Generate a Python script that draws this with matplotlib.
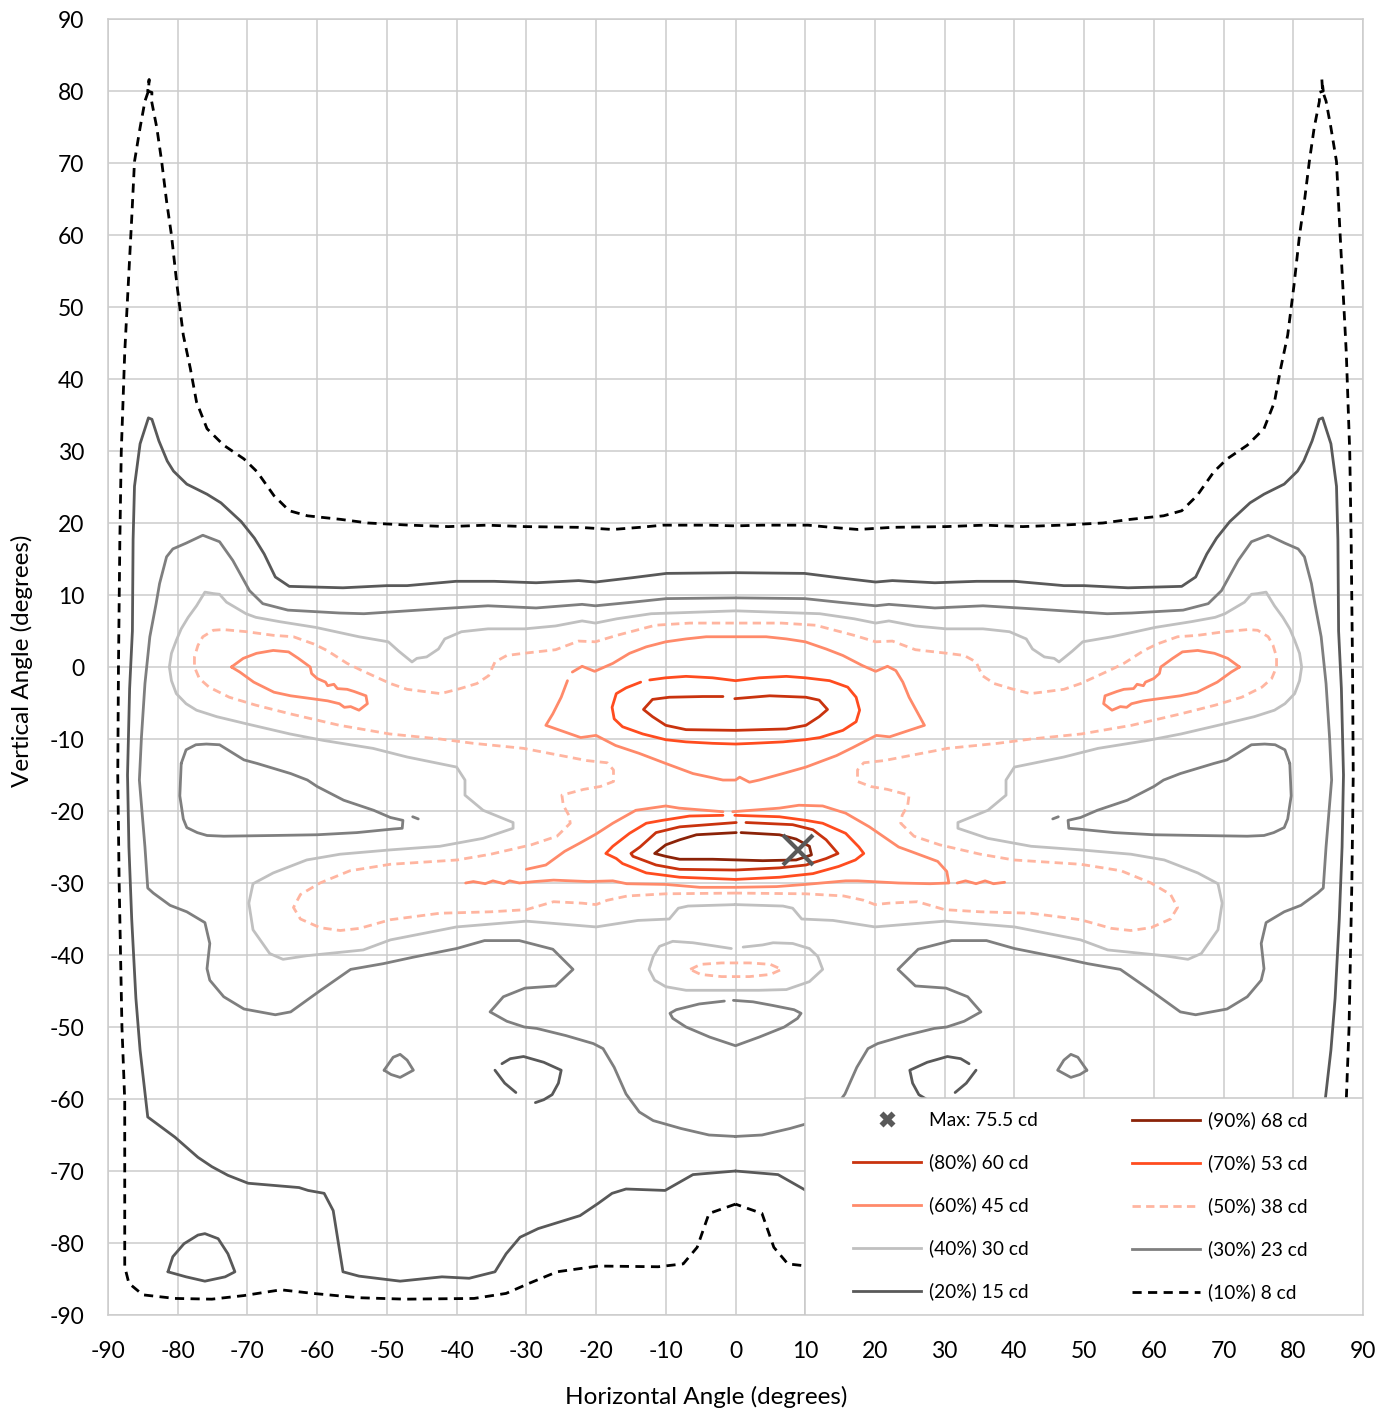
import matplotlib
matplotlib.use('Agg')
import matplotlib.pyplot as plt
from matplotlib.lines import Line2D
from matplotlib.patches import Rectangle

plt.rcParams['font.family'] = ['Lato', 'DejaVu Sans']

# ---------------- data (angles in degrees) ----------------
ticks = list(range(-90, 91, 10))

# 10% (8 cd): half outlines (bottom centre -> top centre)
c10_y = [-74.6, -75.9, -80.6, -82.9, -83.3, -83.2, -84.0, -85.6, -87.0, -87.7,
         -87.8, -87.6, -87.0, -86.5, -87.3, -87.8, -87.7, -87.2, -85.6, -83.3,
         -60.2, -50.0, -30.0, -15.0, 0.0, 17.7, 29.8, 43.7, 53.0, 62.3,
         70.2, 74.9, 78.6, 80.0, 81.6, 80.0, 79.8, 78.6, 74.9, 70.2,
         64.7, 60.0, 53.0, 46.1, 41.5, 36.8, 33.1, 30.8, 28.9, 27.1,
         23.8, 21.7, 21.0, 20.5, 20.0, 19.7, 19.5, 19.7, 19.5, 19.4,
         19.1, 19.4, 19.7, 19.7, 19.6]
c10_xl = [0, -3.8, -5.5, -7.5, -11.1, -19.7, -25.6, -29.6, -32.9, -37.5,
          -47.4, -54.0, -60.6, -65.2, -70.5, -75.1, -80.4, -85.0, -87.0, -87.6,
          -87.6, -88.0, -88.4, -88.6, -88.5, -88.3, -88.1, -87.6, -87.1, -86.6,
          -86.2, -85.4, -84.7, -84.2, -84.1, -84.3, -83.7, -83.75, -83.0, -82.3,
          -81.6, -80.9, -80.1, -79.2, -78.2, -77.3, -75.8, -73.4, -70.5, -68.6,
          -66.2, -64.0, -61.4, -56.6, -52.7, -46.7, -41.2, -35.7, -30.2, -22.5,
          -17.6, -13.7, -10.4, -3.8, 0]
c10_xr = [0, 3.8, 5.5, 7.5, 11.1, 19.7, 25.6, 29.6, 32.9, 37.5,
          47.4, 54.0, 60.6, 65.2, 70.5, 75.1, 80.4, 85.0, 87.0, 87.6,
          87.6, 88.0, 88.4, 88.6, 88.5, 88.3, 88.1, 87.6, 87.1, 86.6,
          86.2, 85.4, 84.7, 84.2, 84.1, 84.3, 83.7, 83.75, 83.0, 82.3,
          81.6, 80.9, 80.1, 79.2, 78.2, 77.3, 75.8, 73.4, 70.5, 68.6,
          66.2, 64.0, 61.4, 56.6, 52.7, 46.7, 41.2, 35.7, 30.2, 22.5,
          17.6, 13.7, 10.4, 3.8, 0]

# 20% (15 cd)
c20_y = [-70.0, -70.5, -72.7, -72.5, -73.1, -74.5, -76.2, -78.0, -79.2, -81.5,
         -84.0, -84.9, -84.7, -85.3, -84.6, -84.0, -75.5, -73.1, -72.7, -72.3,
         -71.7, -70.6, -69.4, -68.1, -65.3, -62.5, -53.2, -46.0, -35.0, -25.0,
         -15.0, -3.0, 5.0, 17.7, 25.1, 31.0, 34.6, 34.4, 31.4, 28.6,
         27.2, 25.4, 24.0, 22.8, 20.2, 17.9, 15.7, 12.5, 11.2, 11.0,
         11.3, 11.3, 11.9, 11.9, 11.7, 12.0, 11.8, 12.4, 13.0, 13.1]
c20_xl = [0, -6.1, -10.1, -15.7, -17.7, -19.7, -22.3, -28.3, -30.9, -32.9,
          -34.5, -38.2, -42.1, -48.1, -54.0, -56.3, -57.7, -59.0, -61.3, -62.6,
          -69.9, -72.8, -75.1, -77.1, -80.4, -84.3, -85.4, -86.0, -86.6, -87.0,
          -87.2, -86.9, -86.5, -86.4, -86.2, -85.4, -84.2, -83.7, -82.7, -81.5,
          -80.6, -78.7, -75.8, -73.8, -70.9, -69.0, -67.6, -66.0, -64.0, -56.3,
          -50.0, -47.1, -40.1, -34.6, -28.6, -22.5, -20.1, -14.8, -9.9, 0]
c20_xr = [0, 6.1, 10.1, 15.7, 17.7, 19.7, 22.3, 28.3, 30.9, 32.9,
          34.5, 38.2, 42.1, 48.1, 54.0, 56.3, 57.7, 59.0, 61.3, 62.6,
          69.9, 72.8, 75.1, 77.1, 80.4, 84.3, 85.4, 86.0, 86.6, 87.0,
          87.2, 86.9, 86.5, 86.4, 86.2, 85.4, 84.2, 83.7, 82.7, 81.5,
          80.6, 78.7, 75.8, 73.8, 70.9, 69.0, 67.6, 66.0, 64.0, 56.3,
          50.0, 47.1, 40.1, 34.6, 28.6, 22.5, 20.1, 14.8, 9.9, 0]
c20_loop_y = [-84.0, -81.9, -80.1, -78.9, -78.7, -79.4, -81.5, -84.0, -84.7, -85.3, -84.7, -84.0]
c20_loop_xl = [-81.4, -80.7, -79.1, -77.1, -76.1, -74.2, -72.8, -71.8, -73.2, -76.1, -78.8, -81.4]
c20_loop_xr = [81.4, 80.7, 79.1, 77.1, 76.1, 74.2, 72.8, 71.8, 73.2, 76.1, 78.8, 81.4]
c20_arc1_y = [-55.1, -54.4, -54.1, -54.9, -56.0, -57.8, -59.4, -60.1, -60.5]
c20_arc1_xl = [-33.5, -32.3, -30.4, -27.5, -25.0, -25.4, -26.3, -27.5, -28.7]
c20_arc1_xr = [33.5, 32.3, 30.4, 27.5, 25.0, 25.4, 26.3, 27.5, 28.7]
c20_arc2_y = [-56.0, -57.8, -59.1]
c20_arc2_xl = [-34.5, -33.1, -31.5]
c20_arc2_xr = [34.5, 33.1, 31.5]

# 30% (23 cd)
c30_y = [-65.2, -65.0, -64.1, -63.0, -61.8, -59.3, -55.6, -53.0, -52.3, -51.2,
         -50.2, -50.0, -49.2, -47.9, -45.8, -44.6, -44.3, -42.0, -39.2, -38.0,
         -38.0, -39.1, -40.3, -41.2, -42.0, -44.9, -47.9, -48.3, -47.5, -45.8,
         -43.5, -41.9, -38.4, -35.5, -34.0, -33.1, -31.4, -30.7, -25.0, -20.3,
         -15.7, -9.7, -2.3, 4.2, 8.8, 11.6, 15.3, 16.4, 17.2, 18.3,
         17.4, 14.8, 10.6, 8.8, 7.9, 7.5, 7.4, 7.8, 8.1, 8.5,
         8.2, 8.7, 8.5, 9.0, 9.5, 9.6]
c30_xl = [0, -3.8, -7.8, -11.8, -13.8, -15.7, -17.4, -19.0, -20.4, -24.3,
          -28.5, -30.3, -32.8, -35.2, -33.3, -30.2, -25.8, -23.3, -26.2, -31.0,
          -36.0, -40.0, -46.2, -50.5, -55.2, -59.5, -63.8, -66.0, -70.5, -73.4,
          -75.4, -75.8, -75.4, -76.1, -78.7, -81.1, -83.5, -84.3, -84.7, -85.1,
          -85.5, -85.2, -84.7, -84.0, -83.1, -82.6, -81.6, -80.7, -78.8, -76.4,
          -74.0, -72.1, -69.7, -67.8, -64.2, -56.8, -53.3, -47.1, -42.3, -35.5,
          -28.6, -22.0, -20.1, -14.8, -9.9, 0]
c30_xr = [0, 3.8, 7.8, 11.8, 13.8, 15.7, 17.4, 19.0, 20.4, 24.3,
          28.5, 30.3, 32.8, 35.2, 33.3, 30.2, 25.8, 23.3, 26.2, 31.0,
          36.0, 40.0, 46.2, 50.5, 55.2, 59.5, 63.8, 66.0, 70.5, 73.4,
          75.4, 75.8, 75.4, 76.1, 78.7, 81.1, 83.5, 84.3, 84.7, 85.1,
          85.5, 85.2, 84.7, 84.0, 83.1, 82.6, 81.6, 80.7, 78.8, 76.4,
          74.0, 72.1, 69.7, 67.8, 64.2, 56.8, 53.3, 47.1, 42.3, 35.5,
          28.6, 22.0, 20.1, 14.8, 9.9, 0]
c30_tri_y = [-13.4, -11.5, -10.8, -10.7, -10.8, -12.9, -13.4, -14.8, -15.7, -16.6,
             -18.5, -19.9, -20.9, -21.3, -22.4, -22.5, -23.0, -23.3, -23.4, -23.5,
             -23.4, -23.0, -22.3, -21.1, -17.9, -13.4]
c30_tri_xl = [-79.5, -78.8, -77.4, -75.9, -74.0, -70.5, -68.6, -63.8, -61.4, -60.0,
              -56.2, -51.9, -49.5, -47.7, -47.8, -49.1, -54.3, -60.0, -66.2, -73.4,
              -75.8, -77.2, -78.7, -79.2, -79.7, -79.5]
c30_tri_xr = [79.5, 78.8, 77.4, 75.9, 74.0, 70.5, 68.6, 63.8, 61.4, 60.0,
              56.2, 51.9, 49.5, 47.7, 47.8, 49.1, 54.3, 60.0, 66.2, 73.4,
              75.8, 77.2, 78.7, 79.2, 79.7, 79.5]
c30_tick_y = [-20.8, -21.1]
c30_tick_xl = [-46.3, -45.5]
c30_tick_xr = [46.3, 45.5]
c30_dia_y = [-56.0, -54.2, -53.8, -54.6, -56.0, -57.0, -56.6, -56.0]
c30_dia_xl = [-50.4, -49.1, -48.1, -47.1, -46.2, -48.1, -49.4, -50.4]
c30_dia_xr = [50.4, 49.1, 48.1, 47.1, 46.2, 48.1, 49.4, 50.4]
c30_lips_x = [-1.6, -5.2, -8.5, -9.4, -9.0, -7.1, -3.7, 0, 3.4, 7.0, 8.9, 9.4, 8.4, 5.3, 2.5, -0.3]
c30_lips_y = [-46.4, -46.8, -47.6, -48.1, -48.8, -50.0, -51.4, -52.6, -51.4, -50.0,
              -48.8, -48.1, -47.6, -47.0, -46.5, -46.3]

# 40% (30 cd)
c40_y = [-33.0, -33.2, -33.5, -35.0, -35.2, -36.1, -35.3, -36.1, -37.9, -39.3,
         -40.1, -40.6, -39.8, -36.5, -32.8, -30.1, -28.6, -26.8, -26.0, -25.4,
         -24.9, -23.8, -22.4, -21.6, -19.9, -17.8, -15.7, -13.9, -12.5, -11.3,
         -10.2, -9.3, -7.9, -6.9, -6.0, -5.1, -3.7, -1.9, 0.0, 1.9,
         3.7, 5.3, 6.9, 8.5, 10.4, 10.2, 10.1, 9.0, 7.4, 6.9,
         6.3, 5.5, 4.8, 4.2, 3.5, 2.2, 0.7, 1.2, 1.4, 2.5,
         3.9, 4.9, 5.3, 5.3, 5.7, 6.4, 6.1, 6.7, 7.4, 7.8]
c40_xl = [0, -6.8, -8.2, -9.5, -14.0, -20.0, -30.0, -40.0, -49.5, -53.4,
          -61.5, -64.9, -66.8, -69.2, -69.8, -69.2, -66.3, -61.5, -56.7, -49.5,
          -42.4, -36.2, -31.9, -31.9, -36.2, -38.8, -38.8, -40.0, -47.1, -52.0,
          -59.1, -63.9, -70.1, -74.4, -77.3, -78.8, -80.2, -80.9, -81.2, -80.9,
          -80.2, -79.5, -78.5, -77.3, -76.1, -74.9, -74.0, -73.0, -70.2, -68.8,
          -65.4, -60.2, -56.9, -54.0, -49.8, -48.3, -46.4, -45.7, -44.3, -42.6,
          -41.7, -39.3, -35.5, -30.2, -25.8, -22.0, -20.1, -17.0, -12.1, 0]
c40_xr = [0, 6.8, 8.2, 9.5, 14.0, 20.0, 30.0, 40.0, 49.5, 53.4,
          61.5, 64.9, 66.8, 69.2, 69.8, 69.2, 66.3, 61.5, 56.7, 49.5,
          42.4, 36.2, 31.9, 31.9, 36.2, 38.8, 38.8, 40.0, 47.1, 52.0,
          59.1, 63.9, 70.1, 74.4, 77.3, 78.8, 80.2, 80.9, 81.2, 80.9,
          80.2, 79.5, 78.5, 77.3, 76.1, 74.9, 74.0, 73.0, 70.2, 68.8,
          65.4, 60.2, 56.9, 54.0, 49.8, 48.3, 46.4, 45.7, 44.3, 42.6,
          41.7, 39.3, 35.5, 30.2, 25.8, 22.0, 20.1, 17.0, 12.1, 0]
c40_ctr_x = [-0.6, -3.3, -6.1, -9.0, -10.9, -11.8, -12.4, -11.6, -10.0, -7.1, -3.3,
             0, 3.4, 7.3, 10.6, 12.5, 11.8, 10.6, 8.2, 5.4, 3.9, 1.1]
c40_ctr_y = [-39.1, -38.7, -38.3, -38.1, -38.8, -40.2, -42.0, -43.5, -44.4, -44.9, -44.9,
             -44.9, -44.9, -44.8, -43.7, -42.0, -40.2, -39.1, -38.4, -38.3, -38.6, -38.9]

# 50% (38 cd)
c50_y = [-31.4, -31.5, -31.8, -32.4, -33.0, -32.8, -32.6, -33.7, -34.0, -34.2,
         -35.1, -36.3, -36.6, -36.2, -35.0, -33.4, -31.6, -30.0, -28.3, -27.4,
         -26.8, -26.0, -24.7, -23.5, -21.7, -20.6, -19.2, -17.8, -17.0, -16.6,
         -15.9, -14.3, -13.3, -13.0, -12.2, -11.3, -10.6, -10.0, -9.3, -8.1,
         -6.5, -5.3, -4.2, -2.8, -1.6, 0.0, 1.4, 3.0, 4.2, 5.1,
         5.2, 4.9, 4.4, 4.2, 3.2, 2.3, 0.5, -0.4, -2.3, -3.1,
         -3.7, -3.0, -2.3, -1.2, 0.7, 1.6, 1.9, 2.4, 3.6, 3.5,
         4.4, 5.8, 6.1, 6.1]
c50_xl = [0, -10.0, -15.5, -18.4, -20.0, -22.0, -26.1, -30.0, -35.1, -42.4,
          -49.5, -53.9, -56.7, -59.6, -62.4, -63.4, -62.4, -59.6, -55.3, -49.5,
          -39.9, -35.1, -29.3, -25.6, -23.7, -23.9, -24.7, -24.9, -21.8, -19.4,
          -17.5, -17.5, -18.4, -21.3, -25.6, -30.4, -37.6, -42.4, -49.6, -56.8,
          -63.9, -68.8, -72.6, -75.5, -76.9, -77.6, -77.6, -77.1, -76.4, -74.9,
          -73.5, -70.1, -66.3, -63.4, -60.5, -58.6, -55.7, -53.8, -49.5, -47.1,
          -42.3, -39.5, -37.1, -35.4, -34.5, -32.8, -30.4, -25.8, -22.5, -20.1,
          -17.0, -11.5, -6.6, 0]
c50_xr = [0, 10.0, 15.5, 18.4, 20.0, 22.0, 26.1, 30.0, 35.1, 42.4,
          49.5, 53.9, 56.7, 59.6, 62.4, 63.4, 62.4, 59.6, 55.3, 49.5,
          39.9, 35.1, 29.3, 25.6, 23.7, 23.9, 24.7, 24.9, 21.8, 19.4,
          17.5, 17.5, 18.4, 21.3, 25.6, 30.4, 37.6, 42.4, 49.6, 56.8,
          63.9, 68.8, 72.6, 75.5, 76.9, 77.6, 77.6, 77.1, 76.4, 74.9,
          73.5, 70.1, 66.3, 63.4, 60.5, 58.6, 55.7, 53.8, 49.5, 47.1,
          42.3, 39.5, 37.1, 35.4, 34.5, 32.8, 30.4, 25.8, 22.5, 20.1,
          17.0, 11.5, 6.6, 0]
c50_ell_x = [-6.5, -5.0, -2.0, 0, 2.0, 5.0, 6.6, 5.0, 2.0, 0, -2.0, -5.0, -6.5]
c50_ell_y = [-42.0, -41.3, -41.1, -41.1, -41.1, -41.3, -42.0, -42.7, -43.0, -43.0, -43.0, -42.7, -42.0]

# 60% (45 cd)
c60_isl_y = [0.0, 1.2, 1.9, 2.3, 2.1, 1.2, 0.0, -0.9, -1.6, -2.1,
             -2.6, -2.4, -3.0, -3.1, -3.4, -4.0, -5.1, -6.0, -5.5, -5.6,
             -5.1, -4.7, -4.5, -4.0, -3.5, -2.1, -0.7, 0.0]
c60_isl_xl = [-72.3, -70.6, -68.7, -66.3, -64.1, -62.7, -61.0, -60.8, -60.0, -58.8,
              -58.5, -57.6, -57.1, -55.7, -54.7, -53.0, -52.8, -54.0, -55.2, -56.1,
              -56.8, -58.5, -60.0, -63.8, -66.2, -69.1, -71.1, -72.3]
c60_isl_xr = [72.3, 70.6, 68.7, 66.3, 64.1, 62.7, 61.0, 60.8, 60.0, 58.8,
              58.5, 57.6, 57.1, 55.7, 54.7, 53.0, 52.8, 54.0, 55.2, 56.1,
              56.8, 58.5, 60.0, 63.8, 66.2, 69.1, 71.1, 72.3]
c60_up_x = [-23.4, -22.0, -20.2, -17.6, -15.2, -12.8, -10.0, -7.1, -4.2, 0,
            4.4, 7.3, 10.0, 13.0, 15.4, 18.2, 20.1, 21.8, 23.0, 24.0,
            24.9, 26.2, 27.1, 24.9, 22.1, 20.2, 16.8, 14.5, 10.1, 6.8,
            3.4, 2.0, 0.6, 0, -1.8, -3.7, -6.1, -10.0, -13.8, -17.2,
            -20.0, -22.2, -27.2, -26.2, -25.0, -24.1]
c60_up_y = [-0.7, 0.1, -0.6, 0.5, 1.9, 2.8, 3.5, 3.9, 4.2, 4.2,
            4.2, 3.9, 3.5, 2.5, 1.6, 0.2, -0.6, 0.1, -0.5, -2.1,
            -4.2, -6.5, -8.1, -8.8, -9.7, -9.5, -11.2, -12.3, -13.9, -14.8,
            -15.7, -16.0, -15.3, -15.7, -15.7, -15.3, -14.8, -13.4, -12.0, -10.9,
            -9.5, -9.8, -8.1, -6.5, -4.2, -1.9]
c60_lo1_x = [-30.0, -27.2, -24.5, -22.4, -20.0, -17.6, -14.3, -10.0, -8.1, -1.8]
c60_lo1_y = [-28.1, -27.5, -25.6, -24.5, -23.2, -21.7, -19.9, -19.3, -19.6, -20.1]
c60_lo2_x = [-0.4, 6.3, 9.1, 12.5, 15.8, 19.2, 23.4, 25.1, 29.0, 30.3,
             30.6, 27.9, 23.4, 17.5, 15.8, 10.0, 5.9, 0, -5.1, -10.0,
             -15.6, -17.6, -21.1, -26.1, -28.8, -31.0, -32.4, -33.2, -34.8, -35.9,
             -37.6, -38.7]
c60_lo2_y = [-20.1, -19.6, -19.2, -19.3, -20.3, -22.2, -25.0, -25.6, -27.0, -28.4,
             -30.0, -30.1, -30.0, -29.7, -29.7, -30.2, -30.5, -30.6, -30.6, -30.2,
             -30.1, -29.7, -29.8, -29.6, -29.8, -30.0, -29.7, -30.1, -29.7, -30.1,
             -29.8, -30.0]
c60_stub_x = [31.8, 33.0, 34.5, 35.8, 37.0, 38.6]
c60_stub_y = [-30.0, -29.7, -30.1, -29.7, -30.1, -29.9]

# 70% (53 cd)
c70_up_x = [-12.3, -10.0, -7.1, -3.3, 0, 3.4, 7.3, 10.0, 13.5, 16.1,
            17.3, 17.8, 17.3, 15.4, 12.1, 10.0, 6.8, 2.5, 0, -3.3,
            -7.1, -10.0, -13.3, -16.2, -17.4, -17.7, -17.1, -15.7, -13.6]
c70_up_y = [-1.8, -1.5, -1.3, -1.5, -1.9, -1.5, -1.3, -1.5, -1.9, -2.8,
            -4.2, -6.0, -7.6, -8.8, -9.8, -10.1, -10.4, -10.6, -10.7, -10.6,
            -10.4, -10.1, -9.3, -8.3, -7.2, -5.6, -3.7, -2.9, -2.1]
c70_lo_x = [-0.1, 6.3, 10.1, 12.5, 15.8, 17.7, 18.4, 17.2, 14.8, 11.1,
            6.3, 0, -8.0, -12.8, -16.2, -17.1, -18.6, -17.6, -15.2, -12.8,
            -10.5, -6.6, -1.8]
c70_lo_y = [-20.6, -20.8, -21.3, -21.7, -23.1, -25.0, -25.9, -26.8, -27.7, -28.7,
            -29.2, -29.5, -29.2, -28.6, -27.3, -26.6, -25.9, -24.9, -23.1, -21.7,
            -21.3, -20.7, -20.6]

# 80% (60 cd)
c80_up_x = [-0.1, 4.9, 10.1, 12.0, 13.2, 12.0, 10.1, 7.3, 0, -7.1, -10.0, -11.9, -13.2, -11.9, -9.5, -4.7, -1.8]
c80_up_y = [-4.4, -4.0, -4.2, -4.6, -5.9, -6.9, -8.1, -8.6, -8.8, -8.7, -8.1, -6.9, -5.9, -4.5, -4.2, -4.1, -4.1]
c80_lo_x = [1.5, 8.2, 11.1, 13.0, 14.7, 13.0, 10.1, 6.3, 0, -8.0, -11.4, -14.7, -15.0, -13.7, -11.4, -8.0, 0.1]
c80_lo_y = [-21.6, -21.9, -22.6, -24.0, -25.9, -26.6, -27.5, -27.9, -28.2, -28.1, -27.5, -26.3, -25.9, -25.0, -23.0, -22.2, -21.6]

# 90% (68 cd)
c90_x = [0.8, 6.3, 8.7, 10.6, 10.9, 8.7, 3.9, -3.3, -8.0, -10.0, -11.6, -10.0, -8.0, -5.6, 0.1]
c90_y = [-23.0, -23.3, -23.9, -24.9, -26.1, -26.8, -26.9, -26.7, -26.7, -26.3, -25.9, -24.7, -24.0, -23.3, -23.0]

# maximum
max_x = [8.9]
max_y = [-25.4]

labels = {
    'max': 'Max: 75.5 cd', 90: '(90%) 68 cd', 80: '(80%) 60 cd', 70: '(70%) 53 cd',
    60: '(60%) 45 cd', 50: '(50%) 38 cd', 40: '(40%) 30 cd', 30: '(30%) 23 cd',
    20: '(20%) 15 cd', 10: '(10%) 8 cd',
}

# ---------------- styles ----------------
LW = 2.0
style = {
    90: dict(color='#8b2308', lw=LW, ls='-'),
    80: dict(color='#c9330e', lw=LW, ls='-'),
    70: dict(color='#ff4c1f', lw=LW, ls='-'),
    60: dict(color='#ff8a6a', lw=LW, ls='-'),
    50: dict(color='#ffb5a0', lw=LW, ls=(0, (3.0, 1.9))),
    40: dict(color='#c0c0c0', lw=LW, ls='-'),
    30: dict(color='#7f7f7f', lw=LW, ls='-'),
    20: dict(color='#595959', lw=LW, ls='-'),
    10: dict(color='#000000', lw=LW, ls=(0, (3.3, 2.3))),
}

fig = plt.figure(figsize=(13.94, 14.12), dpi=100)
ax = fig.add_axes([108 / 1394, 1 - 1315 / 1412, 1255 / 1394, 1296 / 1412])
ax.set_xlim(-90, 90)
ax.set_ylim(-90, 90)
ax.set_xticks(ticks)
ax.set_yticks(ticks)
ax.set_xticklabels([str(t) for t in ticks])
ax.set_yticklabels([str(t) for t in ticks])
ax.grid(True, color='#cccccc', lw=1.1)
ax.set_axisbelow(True)
for s in ax.spines.values():
    s.set_color('#cccccc')
    s.set_linewidth(1.1)
ax.tick_params(axis='x', length=0, labelsize=16.5, pad=19)
ax.tick_params(axis='y', length=0, labelsize=16.5, pad=17)


def line(xs, ys, lvl, z=3):
    ax.plot(xs, ys, solid_joinstyle='round', solid_capstyle='round',
            dash_capstyle='butt', zorder=z, **style[lvl])


def loop(xl, xr, ys, lvl):
    line(list(xl) + list(xr)[::-1], list(ys) + list(ys)[::-1], lvl)


loop(c10_xl, c10_xr, c10_y, 10)
loop(c20_xl, c20_xr, c20_y, 20)
for xs in (c20_loop_xl, c20_loop_xr):
    line(xs, c20_loop_y, 20)
for xs in (c20_arc1_xl, c20_arc1_xr):
    line(xs, c20_arc1_y, 20)
for xs in (c20_arc2_xl, c20_arc2_xr):
    line(xs, c20_arc2_y, 20)
loop(c30_xl, c30_xr, c30_y, 30)
for xs in (c30_tri_xl, c30_tri_xr):
    line(xs, c30_tri_y, 30)
for xs in (c30_tick_xl, c30_tick_xr):
    line(xs, c30_tick_y, 30)
for xs in (c30_dia_xl, c30_dia_xr):
    line(xs, c30_dia_y, 30)
line(c30_lips_x, c30_lips_y, 30)
loop(c40_xl, c40_xr, c40_y, 40)
line(c40_ctr_x, c40_ctr_y, 40)
loop(c50_xl, c50_xr, c50_y, 50)
line(c50_ell_x, c50_ell_y, 50)
for xs in (c60_isl_xl, c60_isl_xr):
    line(xs, c60_isl_y, 60)
line(c60_up_x, c60_up_y, 60)
line(c60_lo1_x, c60_lo1_y, 60)
line(c60_lo2_x, c60_lo2_y, 60)
line(c60_stub_x, c60_stub_y, 60)
line(c70_up_x, c70_up_y, 70)
line(c70_lo_x, c70_lo_y, 70)
line(c80_up_x, c80_up_y, 80)
line(c80_lo_x, c80_lo_y, 80)
line(c90_x, c90_y, 90)
ax.plot(max_x, max_y, ls='none', marker='x', ms=21, mew=3.0, color='#595959', zorder=4)

# ---------------- legend ----------------
box = Rectangle((697 / 1255, 0), 558 / 1255, 217 / 1296, transform=ax.transAxes,
                facecolor='white', edgecolor='#c8c8c8', lw=1.1, zorder=5)
ax.add_patch(box)


def handle(lvl):
    return Line2D([], [], **style[lvl])


h_max = Line2D([], [], ls='none', marker='X', ms=11, color='#595959', mec='none')
col1 = [h_max, handle(80), handle(60), handle(40), handle(20)]
lab1 = [labels['max'], labels[80], labels[60], labels[40], labels[20]]
col2 = [handle(90), handle(70), handle(50), handle(30), handle(10)]
lab2 = [labels[90], labels[70], labels[50], labels[30], labels[10]]

common = dict(loc='upper left', frameon=False, fontsize=13.8, handlelength=3.55,
              handletextpad=0.42, labelspacing=1.31, borderpad=0, borderaxespad=0)
top = (1315 - 1111.5) / 1296
leg1 = ax.legend(col1, lab1, bbox_to_anchor=((853 - 108) / 1255, top), **common)
leg1.set_zorder(6)
ax.add_artist(leg1)
leg2 = ax.legend(col2, lab2, bbox_to_anchor=((1132 - 108) / 1255, top), **common)
leg2.set_zorder(6)

fig.text(706 / 1394, 1 - 1397 / 1412, 'Horizontal Angle (degrees)', ha='center', va='center', fontsize=17.5)
fig.text(22 / 1394, 1 - 661 / 1412, 'Vertical Angle (degrees)', ha='center', va='center',
         rotation=90, fontsize=17.5)

fig.savefig('out.png', dpi=100)
